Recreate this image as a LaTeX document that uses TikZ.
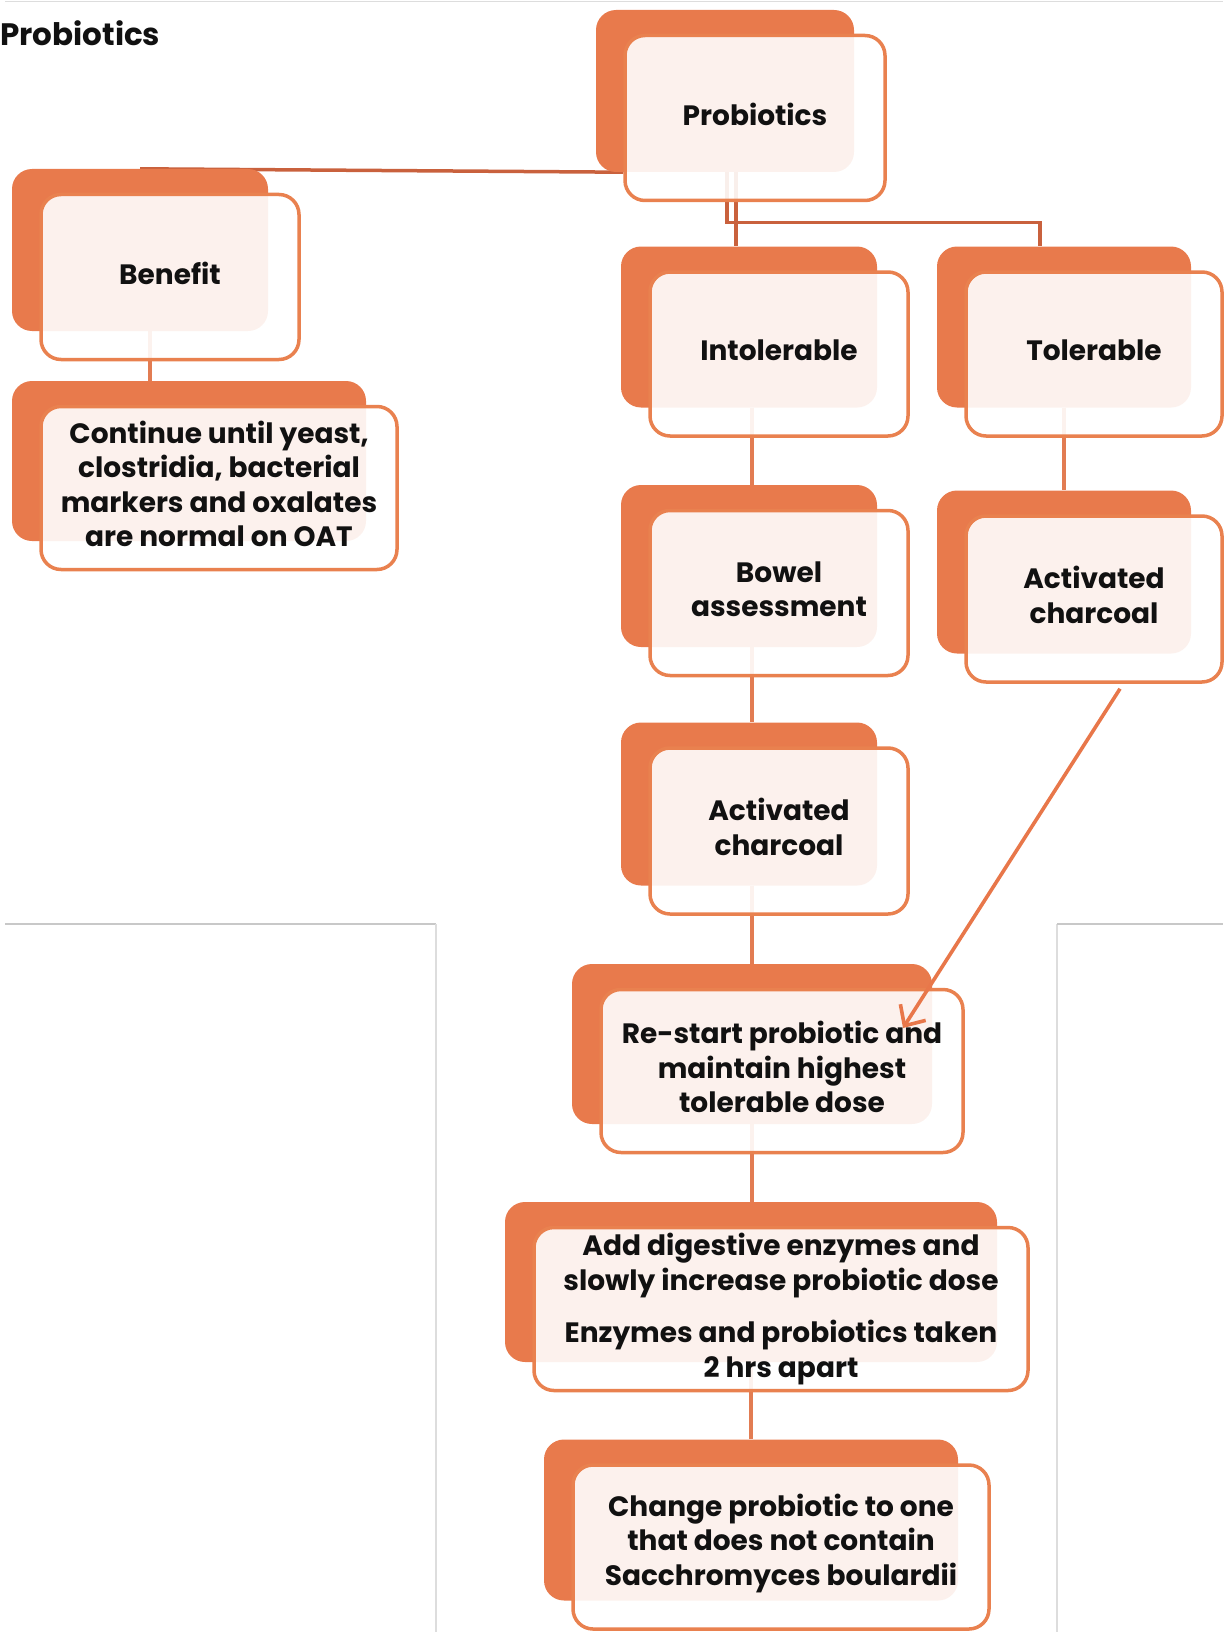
\documentclass[tikz,border=0pt]{standalone}
\usepackage{fontspec}
\setmainfont{Poppins}
\usetikzlibrary{calc,arrows.meta,backgrounds}

\definecolor{boxorange}{HTML}{E87A4C}
\definecolor{edgeorange}{HTML}{E9814F}
\definecolor{linkdark}{HTML}{C9613D}
\definecolor{linkorange}{HTML}{E27C52}
\definecolor{arroworange}{HTML}{E8774A}
\definecolor{ink}{HTML}{111111}
\definecolor{framegrey}{HTML}{C8C8C8}
\definecolor{framelight}{HTML}{DDDDDD}

\newcommand\labelfont{\fontsize{28}{34.5}\selectfont\bfseries}

\tikzset{
  backbox/.style={fill=boxorange, rounded corners=20pt, inner sep=0pt},
  frontbox/.style={draw=edgeorange, line width=3.5pt, fill=white, fill opacity=0.9,
    rounded corners=20pt, inner sep=0pt},
  cardtext/.style={inner sep=0pt, align=center, font=\labelfont, text=ink},
  link/.style={draw=linkorange, line width=3.5pt},
  toplink/.style={draw=linkdark, line width=3.5pt},
  arrowlink/.style={draw=arroworange, line width=3.6pt,
    -{Straight Barb[length=16pt,width=30pt]}},
  frame/.style={draw=framegrey, line width=1.5pt},
  framesoft/.style={draw=framelight, line width=1.5pt},
}

% [#1 label lift] #2 name, #3/#4 centre of the back card, #5/#6 its size, #7 label
\newcommand\flowbox[7][-4]{%
  \node[backbox, minimum width=#5pt, minimum height=#6pt] (#2B) at (#3,#4) {};
  \node[frontbox, minimum width=#5pt+2pt, minimum height=#6pt+3pt] (#2)
    at ($(#3,#4)+(30,27)$) {};
  \node[cardtext] (#2T) at ($(#2.center)+(0,#1)$) {#7};
}

\begin{document}
\begin{tikzpicture}[x=1pt,y=-1pt]
\useasboundingbox (0,0) rectangle (1223,1632);

\node[anchor=base west, inner sep=0pt, text=ink,
      font=\fontsize{31}{38}\selectfont\bfseries] (title) at (0,46) {Probiotics};

\flowbox{prob}{725}{91}{258}{162}{Probiotics}
\flowbox{ben}{140}{250}{256}{162}{Benefit}
\flowbox{con}{189}{461}{354}{160}{Continue until yeast,\\clostridia, bacterial\\markers and oxalates\\are normal on OAT}
\flowbox{int}{749}{327}{256}{161}{Intolerable}
\flowbox{tol}{1064}{327}{254}{161}{Tolerable}
\flowbox{bow}{749}{566}{256}{162}{Bowel\\assessment}
\flowbox{actR}{1064}{572}{254}{163}{Activated\\charcoal}
\flowbox{actM}{749}{804}{256}{163}{Activated\\charcoal}
\flowbox{res}{752}{1044}{360}{160}{Re-start probiotic and\\maintain highest\\tolerable dose}
\flowbox[0]{add}{751}{1282}{492}{160}{Add digestive enzymes and\\slowly increase probiotic dose\\[18pt]Enzymes and probiotics taken\\2 hrs apart}
\flowbox{chg}{751}{1520}{414}{161}{Change probiotic to one\\that does not contain\\Sacchromyces boulardii}

\coordinate (tip) at (903,1028);

\begin{scope}[on background layer]
  % page frame rules
  \draw[framesoft] (5,1.5) -- (1223,1.5);
  \draw[frame] (5,924) -- (436,924);
  \draw[framesoft] (436,924) -- (436,1632);
  \draw[framesoft] (1057,1632) -- (1057,924);
  \draw[frame] (1057,924) -- (1223,924);

  % branches from the top card
  \draw[toplink] (probB.south -| prob.west) -- (benB.north);
  \draw[toplink] ($(probB.south)+(11,0)$) coordinate (pi) -- (pi |- intB.north);
  \draw[toplink] ($(probB.south)+(2,0)$) |- ($(tolB.north)+(-24,-24)$) -- ($(tolB.north)+(-24,0)$);

  % left column
  \draw[link] ($(benB.south)+(10,0)$) coordinate (bc) -- (bc |- conB.north);

  % middle column
  \draw[link] ($(intB.south)+(3,0)$) coordinate (m1) -- (m1 |- bowB.north);
  \draw[link] ($(bowB.south)+(3,0)$) coordinate (m2) -- (m2 |- actMB.north);
  \draw[link] ($(actMB.south)+(3,0)$) coordinate (m3) -- (m3 |- resB.north);
  \draw[link] (resB.south) -- (resB.south |- addB.north);
  \draw[link] (addB.south) -- (addB.south |- chgB.north);

  % right column
  \draw[link] (tolB.south) -- (actRB.north);
\end{scope}

\draw[arrowlink] ($(actR.south)+(26,5)$) -- (tip);
\end{tikzpicture}
\end{document}
